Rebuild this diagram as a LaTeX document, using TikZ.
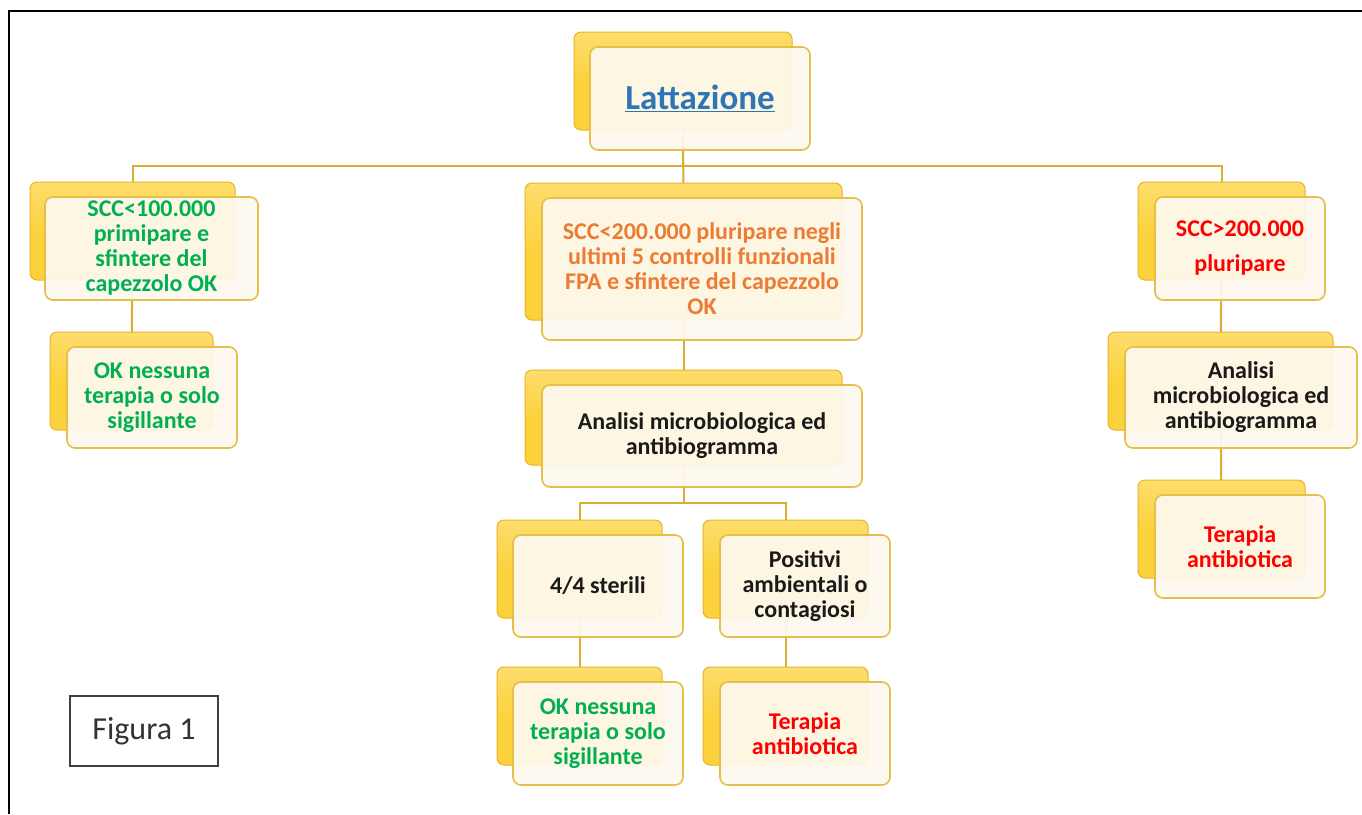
\documentclass[tikz,border=0pt]{standalone}
\usepackage{fontspec}
\setmainfont{Carlito}
\usetikzlibrary{backgrounds}
\definecolor{backyel}{HTML}{FCD23C}
\definecolor{backedge}{HTML}{E8B42A}
\definecolor{frontfill}{HTML}{FEF9EF}
\definecolor{frontedge}{HTML}{E5BF4A}
\definecolor{connc}{HTML}{D9AE32}
\definecolor{tgreen}{HTML}{00B050}
\definecolor{torange}{HTML}{EC7B33}
\definecolor{tred}{HTML}{FF0000}
\definecolor{tblue}{HTML}{2E75B6}
\definecolor{tblack}{HTML}{1A1A1A}
\tikzset{
  backbox/.style={draw=backedge, line width=1pt, fill=backyel, rounded corners=7pt, inner sep=0pt,
    top color=backyel!75!white, bottom color=backyel, middle color=backyel},
  frontbox/.style={draw=frontedge, line width=1.6pt, fill=frontfill, fill opacity=0.93, text opacity=1,
    rounded corners=8pt, inner sep=0pt, align=center,
    font=\fontsize{24}{25}\selectfont\bfseries},
  conn/.style={draw=connc, line width=2pt},
}
\begin{document}
\begin{tikzpicture}[x=1pt,y=-1pt]
\useasboundingbox (0,0) rectangle (1362,814);
\draw[line width=1.8pt] (9,814) -- (9,11) -- (1362,11);

% Lattazione
\node[backbox, minimum width=218pt, minimum height=98pt] (latB) at (683,81) {};
\node[frontbox, minimum width=220pt, minimum height=103pt, text=tblue, font=\fontsize{35}{38}\selectfont\bfseries] (lat) at (700,98.5) {\underline{Lattazione}};

% left column
\node[backbox, minimum width=205pt, minimum height=98pt] (l1B) at (132.5,231) {};
\node[frontbox, minimum width=213pt, minimum height=103pt, text=tgreen] (l1) at (151.5,248.5) {SCC<100.000\\primipare e\\sfintere del\\capezzolo OK};
\node[backbox, minimum width=163pt, minimum height=98pt] (l2B) at (131.5,381) {};
\node[frontbox, minimum width=170pt, minimum height=101pt, text=tgreen] (l2) at (152,397.5) {OK nessuna\\terapia o solo\\sigillante};

% middle column
\node[backbox, minimum width=317pt, minimum height=137pt] (m1B) at (683.5,251.5) {};
\node[frontbox, minimum width=320pt, minimum height=142pt, text=torange] (m1) at (702,269) {SCC<200.000 pluripare negli\\ultimi 5 controlli funzionali\\FPA e sfintere del capezzolo\\OK};
\node[backbox, minimum width=317pt, minimum height=95pt] (m2B) at (683.5,417.5) {};
\node[frontbox, minimum width=320pt, minimum height=102pt, text=tblack] (m2) at (702,436) {Analisi microbiologica ed\\antibiogramma};

\node[backbox, minimum width=165pt, minimum height=98pt] (sB) at (579.5,569) {};
\node[frontbox, minimum width=170pt, minimum height=102pt, text=tblack] (s) at (598,586) {4/4 sterili};
\node[backbox, minimum width=165pt, minimum height=98pt] (pB) at (785.5,569) {};
\node[frontbox, minimum width=170pt, minimum height=102pt, text=tblack] (p) at (805,586) {Positivi\\ambientali o\\contagiosi};

\node[backbox, minimum width=165pt, minimum height=98pt] (okB) at (579.5,716) {};
\node[frontbox, minimum width=170pt, minimum height=103pt, text=tgreen] (ok) at (598,733.5) {OK nessuna\\terapia o solo\\sigillante};
\node[backbox, minimum width=165pt, minimum height=98pt] (tmB) at (785.5,716) {};
\node[frontbox, minimum width=170pt, minimum height=103pt, text=tred] (tm) at (805,733.5) {Terapia\\antibiotica};

% right column
\node[backbox, minimum width=167pt, minimum height=98pt] (r1B) at (1221.5,231) {};
\node[frontbox, minimum width=170pt, minimum height=103pt, text=tred] (r1) at (1240,248.5) {SCC>200.000\\[10pt]pluripare};
\node[backbox, minimum width=225pt, minimum height=98pt] (r2B) at (1220.5,381) {};
\node[frontbox, minimum width=232pt, minimum height=101pt, text=tblack] (r2) at (1241,397.5) {Analisi\\microbiologica ed\\antibiogramma};
\node[backbox, minimum width=167pt, minimum height=98pt] (r3B) at (1221.5,529) {};
\node[frontbox, minimum width=170pt, minimum height=103pt, text=tred] (r3) at (1240,546.5) {Terapia\\antibiotica};

% Figura 1
\node[draw=black!75, line width=1.3pt, minimum width=148pt, minimum height=70pt, inner sep=0pt,
  text=black!80, font=\fontsize{32}{36}\selectfont] (fig) at (144,731) {Figura 1};

% connectors
\coordinate (bus) at (683,166);
\coordinate (bus2) at (683,503);
\begin{scope}[on background layer]
\fill[white] (0,0) rectangle (1362,814);
\draw[conn] (latB.center) -- (latB.center |- bus) -| (l1B.center);
\draw[conn] (latB.center |- bus) -| (r1B.center);
\draw[conn] (latB.center) -- (m1B.center);
\draw[conn] (l1B.center) -- (l2B.center);
\draw[conn] (m1B.center) -- (m2B.center);
\draw[conn] (m2B.center) -- (m2B.center |- bus2) -| (sB.center);
\draw[conn] (m2B.center |- bus2) -| (pB.center);
\draw[conn] (sB.center) -- (okB.center);
\draw[conn] (pB.center) -- (tmB.center);
\draw[conn] (r1B.center) -- (r2B.center);
\draw[conn] (r2B.center) -- (r3B.center);
\end{scope}
\end{tikzpicture}
\end{document}
